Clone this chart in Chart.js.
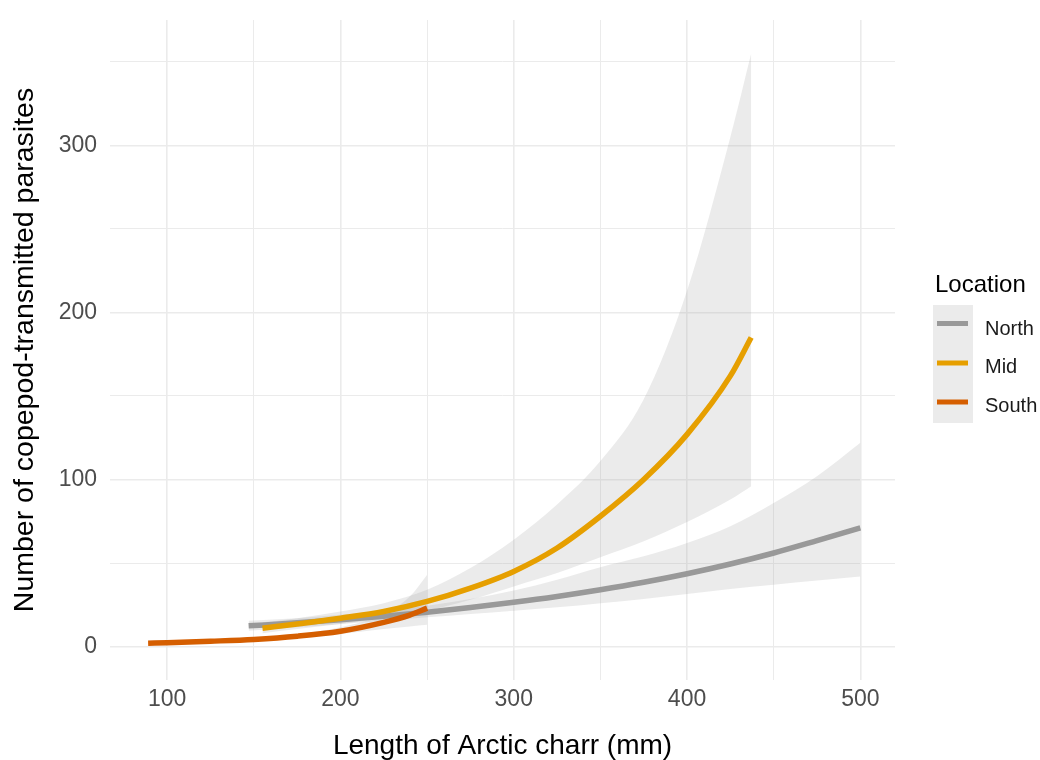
<!DOCTYPE html>
<html><head><meta charset="utf-8">
<script src="https://cdn.jsdelivr.net/npm/chart.js@4/dist/chart.umd.min.js"></script>
<style>html,body{margin:0;padding:0;background:#fff;}canvas{display:block;}</style>
</head><body>
<canvas id="c" width="1040" height="760"></canvas>
<script>
// ---- data ----
const northX     = [147, 175, 200, 225, 250, 275, 300, 325, 350, 375, 400, 425, 450, 475, 500];
const northFit   = [12.4, 14.2, 16.1, 18.2, 20.6, 23.4, 26.5, 30, 34, 38.5, 43.6, 49.4, 56, 63.4, 71];
const northLower = [9.5, 11.5, 13.5, 15.5, 17.5, 19.5, 21.5, 23.5, 26, 28.5, 31.5, 34.5, 37, 39.5, 42];
const northUpper = [15.5, 17, 19, 21.5, 24.5, 28.5, 33.5, 40, 47.5, 54, 62, 72, 86, 102, 122];

const midX     = [155, 175, 200, 225, 250, 275, 300, 325, 350, 375, 400, 425, 437];
const midFit   = [11, 13.5, 17, 21, 27, 35, 45, 59, 78, 100, 127, 162, 185];
const midLower = [8, 10.5, 13.5, 17, 21.5, 28, 36, 44, 53.5, 63, 74.5, 88, 96];
const midUpper = [14.5, 17, 21, 26, 34, 47, 64, 85, 111, 148, 213, 305, 355];

const southX     = [89, 100, 125, 150, 175, 200, 225, 240, 250];
const southFit   = [2, 2.3, 3.2, 4.3, 6.2, 9.2, 14.5, 18.8, 23];
const southLower = [1.5, 1.8, 2.6, 3.6, 5.2, 7.5, 10.5, 12, 13];
const southUpper = [2.6, 2.9, 3.9, 5.1, 7.4, 11.5, 19.5, 30, 43];

const seriesNames  = ['North', 'Mid', 'South'];
const seriesColors = ['#999999', '#E69F00', '#D55E00'];
const xGridValues  = [100, 150, 200, 250, 300, 350, 400, 450, 500];
const xTickLabels  = [100, 200, 300, 400, 500];
const yGridValues  = [0, 50, 100, 150, 200, 250, 300, 350];
const yTickLabels  = [0, 100, 200, 300];
const legendTitle  = 'Location';
const xTitle = 'Length of Arctic charr (mm)';
const yTitle = 'Number of copepod-transmitted parasites';

// ---- build ----
const FONT = '"Liberation Sans", Arial, sans-serif';
const RIBBON = 'rgba(153,153,153,0.2)';
function pts(xs, ys) { return xs.map((x, i) => ({x: x, y: ys[i]})); }
function lineDs(label, xs, ys, color, order) {
  return {label, data: pts(xs, ys), borderColor: color, borderWidth: 5.5, pointRadius: 0,
          fill: false, cubicInterpolationMode: 'monotone', order: order};
}
function bandDs(xs, ys, fill) {
  return {label: 'band', data: pts(xs, ys), borderWidth: 0, borderColor: 'rgba(0,0,0,0)',
          backgroundColor: RIBBON, pointRadius: 0, fill: fill, cubicInterpolationMode: 'monotone', order: 10};
}
const datasets = [
  lineDs(seriesNames[0], northX, northFit, seriesColors[0], 2),
  lineDs(seriesNames[1], midX, midFit, seriesColors[1], 1),
  lineDs(seriesNames[2], southX, southFit, seriesColors[2], 0),
  bandDs(northX, northUpper, '+1'), bandDs(northX, northLower, false),
  bandDs(midX, midUpper, '+1'), bandDs(midX, midLower, false),
  bandDs(southX, southUpper, '+1'), bandDs(southX, southLower, false)
];

const legendPlugin = {
  id: 'ggLegend',
  afterDraw(chart) {
    const ctx = chart.ctx;
    ctx.save();
    ctx.textBaseline = 'alphabetic';
    ctx.textAlign = 'left';
    ctx.fillStyle = '#000000';
    ctx.font = '24px ' + FONT;
    ctx.fillText(legendTitle, 935, 292);
    ctx.fillStyle = '#EBEBEB';
    ctx.fillRect(933, 305, 40, 118);
    const ly = [323.5, 363, 402];
    const by = [334.5, 373, 412];
    seriesNames.forEach((n, i) => {
      ctx.strokeStyle = seriesColors[i];
      ctx.lineWidth = 5;
      ctx.beginPath(); ctx.moveTo(937, ly[i]); ctx.lineTo(968, ly[i]); ctx.stroke();
      ctx.fillStyle = '#1A1A1A';
      ctx.font = '20px ' + FONT;
      ctx.fillText(n, 985, by[i]);
    });
    ctx.restore();
  }
};

new Chart(document.getElementById('c'), {
  type: 'line',
  data: {datasets},
  plugins: [legendPlugin],
  options: {
    responsive: false, animation: false, devicePixelRatio: 1,
    layout: {padding: {top: 20, right: 145, left: 0, bottom: 0}},
    plugins: {legend: {display: false}, tooltip: {enabled: false}},
    elements: {line: {borderCapStyle: 'butt', borderJoinStyle: 'round'}},
    scales: {
      x: {
        type: 'linear', min: 67, max: 520,
        afterBuildTicks: s => { s.ticks = xGridValues.map(v => ({value: v})); },
        afterFit: s => { s.height = 80; s.paddingLeft = 0; s.paddingRight = 0; },
        border: {display: false},
        grid: {color: '#EBEBEB', drawTicks: false,
               lineWidth: c => (xTickLabels.includes(c.tick && c.tick.value) ? 1.6 : 1)},
        ticks: {autoSkip: false, maxRotation: 0, padding: 6, color: '#4D4D4D',
                font: {family: FONT, size: 23},
                callback: v => (xTickLabels.includes(v) ? String(v) : '')},
        title: {display: true, text: xTitle, color: '#000000',
                font: {family: FONT, size: 28, lineHeight: 1}, padding: {top: 0, bottom: 0}}
      },
      y: {
        type: 'linear', min: -20, max: 375,
        afterBuildTicks: s => { s.ticks = yGridValues.map(v => ({value: v})); },
        afterFit: s => { s.width = 110; s.paddingTop = 0; s.paddingBottom = 0; },
        border: {display: false},
        grid: {color: '#EBEBEB', drawTicks: false,
               lineWidth: c => (yTickLabels.includes(c.tick && c.tick.value) ? 1.6 : 1)},
        ticks: {autoSkip: false, padding: 13, color: '#4D4D4D',
                font: {family: FONT, size: 23, lineHeight: 1},
                callback: v => (yTickLabels.includes(v) ? String(v) : '')},
        title: {display: true, text: yTitle, color: '#000000',
                font: {family: FONT, size: 28.5, lineHeight: 1}, padding: {top: 11, bottom: 0}}
      }
    }
  }
});
</script>
</body></html>
